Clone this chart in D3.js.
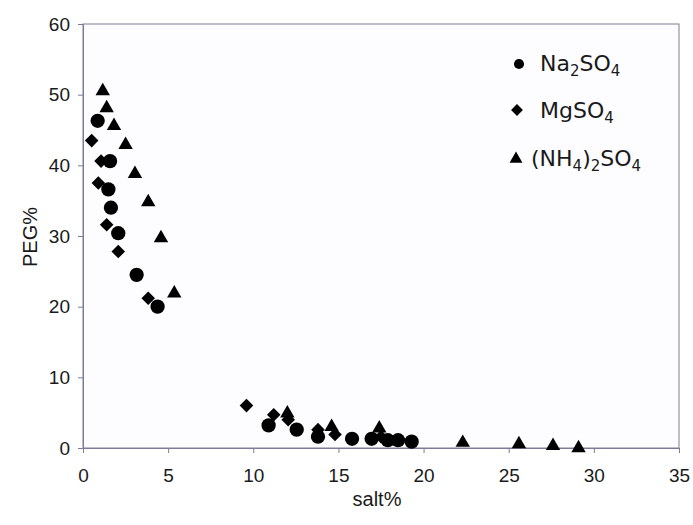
<!DOCTYPE html>
<html>
<head>
<meta charset="utf-8">
<script src="https://cdn.jsdelivr.net/npm/d3@7"></script>
<style>
  html, body { margin: 0; padding: 0; background: #ffffff; }
  svg { display: block; }
  .tick text { font-family: "Liberation Sans", Arial, sans-serif; font-size: 19px; fill: #1a1a1a; }
  .axis-title { font-family: "Liberation Sans", Arial, sans-serif; font-size: 20px; fill: #1a1a1a; }
  .legend text { font-family: "DejaVu Sans", Verdana, sans-serif; font-size: 22px; fill: #1a1a1a; }
</style>
</head>
<body>
<svg id="chart" width="693" height="525"></svg>
<script>
// Phase diagram points: salt% (x) vs PEG% (y) for three salts
const na2so4 = [
  [0.86, 46.3], [1.59, 40.6], [1.49, 36.6], [1.64, 34.0], [2.07, 30.4],
  [3.15, 24.5], [4.38, 20.0],
  [10.9, 3.2], [12.55, 2.6], [13.8, 1.6], [15.8, 1.3], [16.95, 1.3],
  [17.9, 1.1], [18.5, 1.1], [19.3, 0.9]
];
const mgso4 = [
  [0.51, 43.5], [1.06, 40.6], [0.9, 37.5], [1.39, 31.6], [2.07, 27.8],
  [3.83, 21.2],
  [9.6, 6.0], [11.2, 4.7], [12.05, 4.0], [13.8, 2.6], [14.8, 1.9], [17.5, 1.6]
];
const nh4so4 = [
  [1.16, 50.5], [1.39, 48.1], [1.82, 45.6], [2.5, 42.9], [3.05, 38.8],
  [3.83, 34.8], [4.58, 29.7], [5.36, 21.9],
  [12.0, 4.9], [14.6, 3.0], [17.4, 2.8], [22.3, 0.75], [25.6, 0.55],
  [27.6, 0.3], [29.1, 0.0]
];
const xTicks = [0, 5, 10, 15, 20, 25, 30, 35];
const yTicks = [0, 10, 20, 30, 40, 50, 60];
const xLabel = "salt%";
const yLabel = "PEG%";

const svg = d3.select("#chart");
const m = { left: 83, right: 679, top: 24, bottom: 448 };
const axisColor = "#7c7c98";

const x = d3.scaleLinear().domain([0, 35]).range([m.left, m.right]);
const y = d3.scaleLinear().domain([0, 60]).range([m.bottom, m.top]);

// Plot frame
svg.append("rect")
  .attr("x", m.left).attr("y", m.top)
  .attr("width", m.right - m.left).attr("height", m.bottom - m.top)
  .attr("fill", "#fdfdff")
  .attr("stroke", axisColor).attr("stroke-width", 1);

// Axes
const xAxis = svg.append("g")
  .attr("transform", `translate(0,${m.bottom})`)
  .call(d3.axisBottom(x).tickValues(xTicks).tickSize(5).tickPadding(16).tickFormat(d3.format("d")));
const yAxis = svg.append("g")
  .attr("transform", `translate(${m.left},0)`)
  .call(d3.axisLeft(y).tickValues(yTicks).tickSize(5).tickPadding(8).tickFormat(d3.format("d")));
[xAxis, yAxis].forEach(g => {
  g.selectAll(".domain").attr("stroke", axisColor);
  g.selectAll(".tick line").attr("stroke", axisColor);
});

// Axis titles
svg.append("text").attr("class", "axis-title")
  .attr("x", 377).attr("y", 506)
  .attr("text-anchor", "middle").text(xLabel);
svg.append("text").attr("class", "axis-title")
  .attr("transform", `translate(37,237) rotate(-90)`)
  .attr("text-anchor", "middle").text(yLabel);

// Marker shapes
const circle = d3.symbol().type(d3.symbolCircle).size(160);
const diamond = d3.symbol().type(d3.symbolSquare).size(92);
const triangle = d3.symbol().type(d3.symbolTriangle).size(90);

const plot = svg.append("g");
plot.selectAll("path.na").data(na2so4).join("path")
  .attr("class", "na")
  .attr("d", circle)
  .attr("transform", d => `translate(${x(d[0])},${y(d[1])})`)
  .attr("fill", "#000");
plot.selectAll("path.mg").data(mgso4).join("path")
  .attr("class", "mg")
  .attr("d", diamond)
  .attr("transform", d => `translate(${x(d[0])},${y(d[1])}) rotate(45)`)
  .attr("fill", "#000");
plot.selectAll("path.nh").data(nh4so4).join("path")
  .attr("class", "nh")
  .attr("d", triangle)
  .attr("transform", d => `translate(${x(d[0])},${y(d[1])})`)
  .attr("fill", "#000");

// Legend: chemical formulas with subscripted digits
const legend = svg.append("g").attr("class", "legend");
function addFormula(g, parts, tx, ty) {
  const t = g.append("text").attr("x", tx).attr("y", ty);
  let lowered = false;
  parts.forEach(p => {
    const span = t.append("tspan").text(p.s);
    if (p.sub) {
      span.attr("font-size", "15px");
      if (!lowered) { span.attr("dy", 5); lowered = true; }
    } else if (lowered) {
      span.attr("dy", -5); lowered = false;
    }
  });
}
legend.append("path").attr("d", d3.symbol().type(d3.symbolCircle).size(80))
  .attr("transform", "translate(519,64)").attr("fill", "#000");
addFormula(legend, [{s: "Na"}, {s: "2", sub: true}, {s: "SO"}, {s: "4", sub: true}], 540, 71);

legend.append("path").attr("d", d3.symbol().type(d3.symbolSquare).size(70))
  .attr("transform", "translate(517,110) rotate(45)").attr("fill", "#000");
addFormula(legend, [{s: "MgSO"}, {s: "4", sub: true}], 540, 118);

legend.append("path").attr("d", d3.symbol().type(d3.symbolTriangle).size(72))
  .attr("transform", "translate(516,159)").attr("fill", "#000");
addFormula(legend, [{s: "(NH"}, {s: "4", sub: true}, {s: ")"}, {s: "2", sub: true}, {s: "SO"}, {s: "4", sub: true}], 531, 166);
</script>
</body>
</html>
